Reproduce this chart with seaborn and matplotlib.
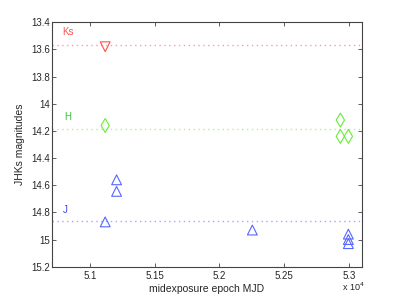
import numpy as np
import pandas as pd
import matplotlib
matplotlib.use("Agg")
import matplotlib.pyplot as plt
from matplotlib.ticker import FuncFormatter
import seaborn as sns

# J band
j_mjd = [51118, 51206, 51206, 52255, 52997, 52997, 52997]
j_mag = [14.87, 14.56, 14.645, 14.93, 14.96, 15.0, 15.03]
# H band
h_mjd = [51118, 52935, 52935, 52997]
h_mag = [14.16, 14.12, 14.24, 14.24]
# Ks band
k_mjd = [51118]
k_mag = [13.58]

# mean levels (dotted lines)
levels = {"J": 14.863, "H": 14.188, "Ks": 13.57}

bands = ["Ks", "H", "J"]
colors = {"Ks": "#ff5050", "H": "#66ee33", "J": "#5566ff"}
line_colors = {"Ks": "#ff9a9a", "H": "#b0f090", "J": "#a0a8ff"}
label_colors = {"Ks": "#ff5050", "H": "#44bb44", "J": "#3344ee"}
markers = {"Ks": "v", "H": "d", "J": "^"}
label_pos = {"Ks": (50790, 13.47), "H": (50800, 14.10), "J": (50790, 14.78)}

df = pd.concat([
    pd.DataFrame({"band": "J", "mjd": j_mjd, "mag": j_mag}),
    pd.DataFrame({"band": "H", "mjd": h_mjd, "mag": h_mag}),
    pd.DataFrame({"band": "Ks", "mjd": k_mjd, "mag": k_mag}),
])

sns.set_style("ticks")
plt.rcParams["font.family"] = ["Liberation Sans", "DejaVu Sans"]

fig = plt.figure(figsize=(3.99, 3.0), dpi=100)
ax = fig.add_axes([0.130, 0.111, 0.7765, 0.8146])

for b in bands:
    ax.axhline(levels[b], color=line_colors[b], ls=(0, (1, 2.5)), lw=1.0, zorder=1)
    sub = df[df["band"] == b]
    sns.scatterplot(data=sub, x="mjd", y="mag", marker=markers[b], s=50,
                    fc="none", ec=colors[b], linewidth=0.8, ax=ax, zorder=3)
    ax.text(label_pos[b][0], label_pos[b][1], b, color=label_colors[b],
            fontsize=7, va="center", ha="left")

ax.set_xlim(50706, 53100)
ax.set_ylim(15.2, 13.4)
ax.set_xticks([51000, 51500, 52000, 52500, 53000])
ax.xaxis.set_major_formatter(FuncFormatter(lambda v, p: f"{v/1e4:g}"))
ax.set_yticks(np.arange(13.4, 15.21, 0.2))
ax.yaxis.set_major_formatter(FuncFormatter(lambda v, p: f"{v:g}"))
ax.tick_params(direction="in", length=3, width=0.6, labelsize=7, color="#444444",
               top=True, right=True, pad=1.5)
ax.tick_params(axis="x", pad=3)
for sp in ax.spines.values():
    sp.set_linewidth(0.8)
    sp.set_color("#444444")

ax.set_xlabel("midexposure epoch MJD", fontsize=7.5, labelpad=2)
ax.set_ylabel("JHKs magnitudes", fontsize=7.5, labelpad=4)
fig.text(0.857, 0.045, r"x 10$^4$", fontsize=6.5, ha="left", va="center")

fig.savefig("out.png", dpi=100)
